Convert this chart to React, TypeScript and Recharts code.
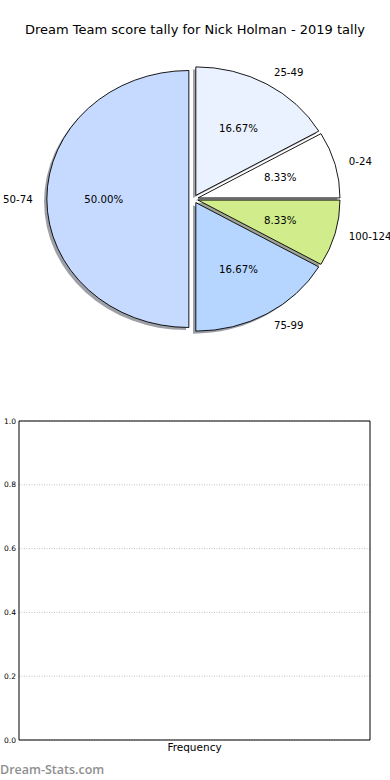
import React from "react"
import {
  PieChart,
  Pie,
  Cell,
  Sector,
  BarChart,
  Bar,
  XAxis,
  YAxis,
  CartesianGrid,
  ReferenceArea,
} from "recharts"

const TITLE = "Dream Team score tally for Nick Holman - 2019 tally"
const bands = ["0-24", "25-49", "50-74", "75-99", "100-124"]
const tallies = [1, 2, 6, 2, 1]
const colors = ["#ffffff", "#ebf2ff", "#c6daff", "#b6d6ff", "#d1ec8b"]

const freqCategories = ["Frequency"]
const freqCounts = [0]
const yTicks = [0, 0.2, 0.4, 0.6, 0.8, 1.0]

const FONT = "'DejaVu Sans', sans-serif"
const CX = 193.5
const CY = 199
const R = 128.5
const SX = 142 / 128.5 // matplotlib pie without equal aspect -> ellipse
const EXPLODE = 4.2
const RAD = Math.PI / 180

const pieData = bands.map((b, i) => ({ name: b, value: tallies[i] }))
const total = tallies.reduce((a, b) => a + b, 0)

function shade(hex: string) {
  const n = parseInt(hex.slice(1), 16)
  const r = Math.round(((n >> 16) & 255) * 0.3)
  const g = Math.round(((n >> 8) & 255) * 0.3)
  const b = Math.round((n & 255) * 0.3)
  return `rgb(${r},${g},${b})`
}

function offset(mid: number) {
  return { dx: Math.cos(mid * RAD) * EXPLODE, dy: -Math.sin(mid * RAD) * EXPLODE }
}

function WedgeShape(props: any) {
  const { cx, cy, midAngle, fill } = props
  const { dx, dy } = offset(midAngle)
  return (
    <g transform={`translate(${cx},${cy}) scale(${SX},1) translate(${-cx},${-cy})`}>
      <Sector
        {...props}
        cx={cx + dx}
        cy={cy + dy}
        fill={fill}
        stroke="#000"
        strokeWidth={0.9}
        vectorEffect="non-scaling-stroke"
      />
    </g>
  )
}

function ShadowShape(props: any) {
  const { cx, cy, midAngle, payload } = props
  const { dx, dy } = offset(midAngle)
  const idx = bands.indexOf(payload?.name ?? props.name)
  const base = colors[idx >= 0 ? idx : 0]
  return (
    <g transform={`translate(${cx - 2.8},${cy + 2.6}) scale(${SX},1) translate(${-cx},${-cy})`}>
      <Sector
        {...props}
        cx={cx + dx}
        cy={cy + dy}
        fill={shade(base)}
        fillOpacity={0.5}
        stroke="none"
      />
    </g>
  )
}

function WedgeLabel(props: any) {
  const { cx, cy, midAngle, value, name } = props
  const { dx, dy } = offset(midAngle)
  const cos = Math.cos(midAngle * RAD)
  const sin = Math.sin(midAngle * RAD)
  const lx = cx + SX * (dx + 1.1 * R * cos)
  const ly = cy + dy - 1.1 * R * sin
  const px = cx + SX * (dx + 0.6 * R * cos)
  const py = cy + dy - 0.6 * R * sin
  const pct = ((value / total) * 100).toFixed(2) + "%"
  return (
    <g fontFamily={FONT} fontSize={10.2} fill="#000">
      <text x={lx} y={ly} textAnchor={lx > cx ? "start" : "end"} dominantBaseline="central">
        {name}
      </text>
      <text x={px} y={py} textAnchor="middle" dominantBaseline="central">
        {pct}
      </text>
    </g>
  )
}

export default function App() {
  const freqData = freqCategories.map((c, i) => ({ name: c, count: freqCounts[i] }))

  return (
    <div style={{ position: "absolute", left: 0, top: 0, width: 390, height: 780, background: "#fff" }}>
      <div
        style={{
          position: "absolute",
          left: 0,
          top: 21,
          width: 390,
          textAlign: "center",
          fontFamily: FONT,
          fontSize: 13,
          lineHeight: "18px",
          color: "#000",
        }}
      >
        {TITLE}
      </div>

      <div style={{ position: "absolute", left: 0, top: 0 }}>
        <PieChart width={390} height={390} margin={{ top: 0, right: 0, bottom: 0, left: 0 }}>
          <Pie
            data={pieData}
            dataKey="value"
            nameKey="name"
            cx={CX}
            cy={CY}
            outerRadius={R}
            startAngle={0}
            endAngle={360}
            shape={ShadowShape}
            stroke="none"
            isAnimationActive={false}
          />
          <Pie
            data={pieData}
            dataKey="value"
            nameKey="name"
            cx={CX}
            cy={CY}
            outerRadius={R}
            startAngle={0}
            endAngle={360}
            shape={WedgeShape}
            label={WedgeLabel}
            labelLine={false}
            isAnimationActive={false}
          >
            {pieData.map((d, i) => (
              <Cell key={d.name} fill={colors[i]} />
            ))}
          </Pie>
        </PieChart>
      </div>

      <div style={{ position: "absolute", left: 0, top: 400 }}>
        <BarChart width={390} height={380} data={freqData} margin={{ top: 21, right: 20, bottom: 20, left: 0 }}>
          <CartesianGrid vertical={false} stroke="#c0c0c0" strokeDasharray="1 1.5" />
          <XAxis
            dataKey="name"
            height={20}
            tickLine={false}
            axisLine={false}
            tickSize={0}
            tickMargin={4}
            tick={{ fontFamily: FONT, fontSize: 10.5, fill: "#000" }}
          />
          <YAxis
            width={19}
            domain={[0, 1]}
            ticks={yTicks}
            tickFormatter={(v: number) => v.toFixed(1)}
            tickLine={false}
            axisLine={false}
            tickSize={0}
            tickMargin={3}
            tick={{ fontFamily: FONT, fontSize: 7.5, fill: "#000" }}
          />
          <YAxis
            yAxisId="right"
            orientation="right"
            mirror
            width={0}
            domain={[0, 1]}
            ticks={yTicks}
            axisLine={false}
            tick={false}
            tickSize={3}
            tickLine={{ stroke: "#a0a0a0", strokeWidth: 1.5 }}
          />
          <Bar dataKey="count" fill="#c6daff" isAnimationActive={false} />
          <ReferenceArea y1={0} y2={1} stroke="#000" strokeWidth={1} fill="none" fillOpacity={0} />
        </BarChart>
      </div>

      <div
        style={{
          position: "absolute",
          left: 0,
          top: 761,
          fontFamily: "'Open Sans', sans-serif",
          fontSize: 12.5,
          fontWeight: 600,
          color: "#8f8f8f",
          lineHeight: "18px",
        }}
      >
        Dream-Stats.com
      </div>
    </div>
  )
}
